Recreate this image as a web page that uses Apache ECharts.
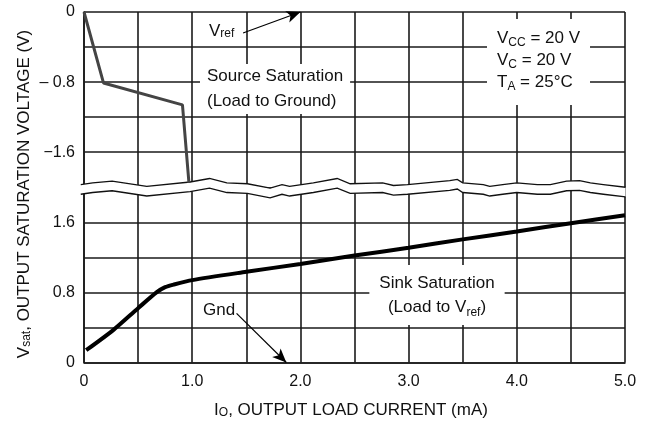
<!DOCTYPE html>
<html>
<head>
<meta charset="utf-8">
<script src="https://cdn.jsdelivr.net/npm/echarts@6/dist/echarts.min.js"></script>
<style>html,body{margin:0;padding:0;background:#fff}#c{width:653px;height:432px}</style>
</head>
<body>
<div id="c"></div>
<script>
// ---- data ----
// Source saturation (load to ground), volts relative to Vref (upper, broken part of axis)
const sourceCurrent = [0, 0.18, 0.91, 0.97];
const sourceVolts   = [0, -0.81, -1.06, -1.95];
// Sink saturation (load to Vref), volts above ground (lower part of axis)
const sinkCurrent = [0.02, 0.27, 0.5, 0.67, 0.75, 0.83, 1.0, 1.5, 2.0, 2.5, 3.0, 3.5, 4.0, 4.5, 5.0];
const sinkVolts   = [0.14, 0.37, 0.62, 0.80, 0.86, 0.89, 0.94, 1.035, 1.125, 1.22, 1.31, 1.405, 1.495, 1.59, 1.68];
// tick labels
const xTickLabels = ['0', '1.0', '2.0', '3.0', '4.0', '5.0'];
const yTickLabels = ['0', '0.8', '1.6', '\u22121.6', '\u2013 0.8', '0'];
// axis break (wavy band) in combined-axis units
const breakX     = [-0.03, 0.08, 0.26, 0.58, 0.98, 1.16, 1.32, 1.51, 1.72, 1.83, 1.90, 2.12, 2.34, 2.46, 2.76, 2.86, 2.99, 3.38, 3.45, 3.50, 3.69, 3.75, 3.87, 4.00, 4.19, 4.31, 4.46, 4.58, 4.68, 4.80, 5.005];
const breakUpper = [2.03, 2.05, 2.07, 2.01, 2.06, 2.10, 2.05, 2.04, 1.99, 2.03, 2.01, 2.05, 2.10, 2.04, 2.05, 2.02, 2.03, 2.075, 2.09, 2.05, 2.03, 2.01, 2.03, 2.05, 2.03, 2.03, 2.07, 2.075, 2.05, 2.03, 2.00];
const breakLower = [1.92, 1.94, 1.96, 1.90, 1.95, 1.99, 1.94, 1.93, 1.88, 1.92, 1.90, 1.94, 1.99, 1.93, 1.94, 1.91, 1.92, 1.965, 1.98, 1.94, 1.92, 1.90, 1.92, 1.94, 1.92, 1.92, 1.96, 1.965, 1.94, 1.92, 1.89];
// the upper (negative, relative to Vref) scale sits on top of the lower one
const TOP_OFFSET = 4.0;

const FONT = 'Liberation Sans, Arial, sans-serif';
const INK = '#111';
const gridLine = { color: '#1a1a1a', width: 1.6 };

const chart = echarts.init(document.getElementById('c'), null, { renderer: 'canvas' });

const sourceData = sourceCurrent.map((x, i) => [x, TOP_OFFSET + sourceVolts[i]]);
const sinkData = sinkCurrent.map((x, i) => [x, sinkVolts[i]]);

const sub = { fontSize: 12, fontFamily: FONT, fill: INK, verticalAlign: 'bottom', lineHeight: 13 };

function txt(x, y, text, extra) {
  return Object.assign({
    type: 'text', x: x, y: y, z: 50,
    style: Object.assign({
      text: text, fontSize: 17, fontFamily: FONT, fill: INK,
      align: 'left', verticalAlign: 'middle',
      rich: { s: Object.assign({}, sub) }
    }, extra && extra.style)
  }, extra && extra.el);
}

chart.setOption({
  animation: false,
  backgroundColor: '#fff',
  grid: { left: 84, right: 28, top: 12, bottom: 69.5, containLabel: false },
  xAxis: {
    type: 'value', min: 0, max: 5, interval: 1,
    axisLine: { show: true, lineStyle: gridLine },
    axisTick: { show: false },
    splitLine: { show: true, lineStyle: gridLine },
    minorTick: { show: false, splitNumber: 2 },
    minorSplitLine: { show: true, lineStyle: gridLine },
    axisLabel: {
      margin: 11, color: INK, fontSize: 16, fontFamily: FONT,
      formatter: v => xTickLabels[Math.round(v)]
    }
  },
  yAxis: {
    type: 'value', min: 0, max: 4, interval: 0.8,
    axisLine: { show: true, lineStyle: gridLine },
    axisTick: { show: false },
    splitLine: { show: true, lineStyle: gridLine },
    minorTick: { show: false, splitNumber: 2 },
    minorSplitLine: { show: true, lineStyle: gridLine },
    axisLabel: {
      margin: 9, color: INK, fontSize: 16, fontFamily: FONT,
      formatter: v => yTickLabels[Math.round(v / 0.8)]
    }
  },
  series: [
    {
      type: 'custom', z: 5, clip: false, silent: true,
      data: [[0, 2]],
      renderItem: function (params, api) {
        if (params.dataIndex !== 0) return;
        const up = breakX.map((x, i) => api.coord([x, breakUpper[i]]));
        const lo = breakX.map((x, i) => api.coord([x, breakLower[i]]));
        const poly = up.concat(lo.slice().reverse());
        return {
          type: 'group', children: [
            { type: 'polygon', shape: { points: poly }, style: { fill: '#fff', stroke: null } },
            { type: 'polyline', shape: { points: up }, style: { stroke: '#111', lineWidth: 1.3, fill: null } },
            { type: 'polyline', shape: { points: lo }, style: { stroke: '#111', lineWidth: 1.3, fill: null } }
          ]
        };
      }
    },
    {
      name: 'Source Saturation', type: 'line', z: 6, data: sourceData,
      symbol: 'none', smooth: false,
      lineStyle: { color: '#444', width: 3 }
    },
    {
      name: 'Sink Saturation', type: 'line', z: 6, data: sinkData,
      symbol: 'none', smooth: 0.25,
      lineStyle: { color: '#000', width: 4 },
      markLine: {
        silent: true, symbol: ['none', 'arrow'], symbolSize: [9, 14],
        label: { show: false },
        lineStyle: { color: '#000', width: 1.2, type: 'solid' },
        data: [
          [{ coord: [1.47, 3.76] }, { coord: [2.0, 4.0] }],
          [{ coord: [1.41, 0.56] }, { coord: [1.87, 0.0] }]
        ]
      }
    }
  ],
  graphic: [
    txt(207, 31, 'V{s|ref}', { style: { backgroundColor: '#fff', padding: [2, 2, 2, 2] } }),
    txt(200, 89, 'Source Saturation\n(Load to Ground)', { style: { lineHeight: 25, backgroundColor: '#fff', padding: [0, 7, 0, 7] } }),
    txt(487, 62, 'V{s|CC} = 20 V\nV{s|C} = 20 V\nT{s|A} = 25\u00b0C', { style: { lineHeight: 22, backgroundColor: '#fff', padding: [8, 10, 12, 10] } }),
    txt(437, 295, 'Sink Saturation\n(Load to V{s|ref})', { style: { align: 'center', lineHeight: 24, backgroundColor: '#fff', padding: [6, 10, 6, 10] } }),
    txt(203, 310, 'Gnd', {}),
    txt(351, 410, 'I{s|O}, OUTPUT LOAD CURRENT (mA)', { style: { align: 'center' } }),
    txt(24, 194, 'V{s|sat}, OUTPUT SATURATION VOLTAGE (V)', { style: { align: 'center' }, el: { rotation: Math.PI / 2 } })
  ]
});
</script>
</body>
</html>
